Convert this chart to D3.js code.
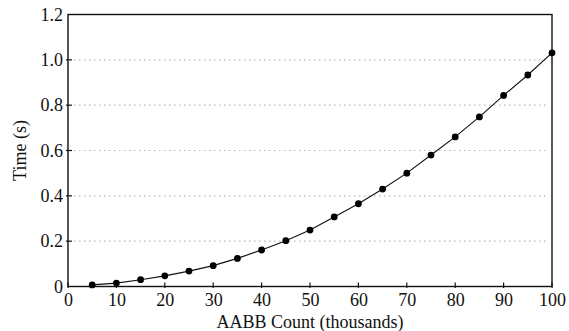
<!DOCTYPE html>
<html><head><meta charset="utf-8">
<script src="https://cdn.jsdelivr.net/npm/d3@7/dist/d3.min.js"></script>
<style>
body{margin:0;background:#fff;}
text{font-family:"Liberation Serif","Times New Roman",serif;fill:#111;}
</style></head>
<body><svg id="c" width="569" height="331"></svg>
<script>
const counts = [5,10,15,20,25,30,35,40,45,50,55,60,65,70,75,80,85,90,95,100];
const times = [0.007,0.015,0.030,0.047,0.068,0.092,0.124,0.161,0.202,0.249,0.307,0.365,0.430,0.500,0.580,0.660,0.748,0.843,0.933,1.031];
const xTicks = [0,10,20,30,40,50,60,70,80,90,100];
const yTicks = [0,0.2,0.4,0.6,0.8,1.0,1.2];
const gridTicks = [0.2,0.4,0.6,0.8,1.0];

const svg = d3.select("#c");
const L=68,R=552,T=14.5,B=286.5;
const x = d3.scaleLinear().domain([0,100]).range([L,R]);
const y = d3.scaleLinear().domain([0,1.2]).range([B,T]);

// grid
svg.append("g").selectAll("line").data(gridTicks).join("line")
  .attr("x1",L+6).attr("x2",R-3)
  .attr("y1",d=>y(d)).attr("y2",d=>y(d))
  .attr("stroke","#b8b8b8").attr("stroke-width",1.2)
  .attr("stroke-dasharray","1.5,3.5");

// frame
svg.append("rect").attr("x",L).attr("y",T).attr("width",R-L).attr("height",B-T)
  .attr("fill","none").attr("stroke","#111").attr("stroke-width",1.4);

// x axis
const xa = svg.append("g").attr("transform",`translate(0,${B})`)
  .call(d3.axisBottom(x).tickValues(xTicks).tickSize(0).tickPadding(7).tickFormat(d3.format("d")));
xa.select(".domain").remove();
xa.selectAll("text").attr("font-size",18).attr("dy","0.71em");
svg.append("g").selectAll("line").data(xTicks).join("line")
  .attr("x1",d=>x(d)).attr("x2",d=>x(d)).attr("y1",B+1.5).attr("y2",B-4)
  .attr("stroke","#111").attr("stroke-width",1.2);

// y axis
const ya = svg.append("g").attr("transform",`translate(${L},0)`)
  .call(d3.axisLeft(y).tickValues(yTicks).tickSize(0).tickPadding(5)
  .tickFormat(d=>d===0?"0":d3.format(".1f")(d)));
ya.select(".domain").remove();
ya.selectAll("text").attr("font-size",18);
svg.append("g").selectAll("line").data(yTicks.filter(d=>d<1.2 && d>0)).join("line")
  .attr("x1",L-2).attr("x2",L+4).attr("y1",d=>y(d)).attr("y2",d=>y(d))
  .attr("stroke","#111").attr("stroke-width",1.2);

// titles
svg.append("text").attr("x",(L+R)/2).attr("y",328).attr("text-anchor","middle")
  .attr("font-size",18).text("AABB Count (thousands)");
svg.append("text").attr("transform",`translate(26,${(T+B)/2}) rotate(-90)`)
  .attr("text-anchor","middle").attr("font-size",18).text("Time (s)");

// line + points
const line = d3.line().x((d,i)=>x(counts[i])).y(d=>y(d));
svg.append("path").datum(times).attr("d",line).attr("fill","none")
  .attr("stroke","#111").attr("stroke-width",1.1);
svg.append("g").selectAll("circle").data(times).join("circle")
  .attr("cx",(d,i)=>x(counts[i])).attr("cy",d=>y(d)).attr("r",3.4).attr("fill","#000");
</script></body></html>
